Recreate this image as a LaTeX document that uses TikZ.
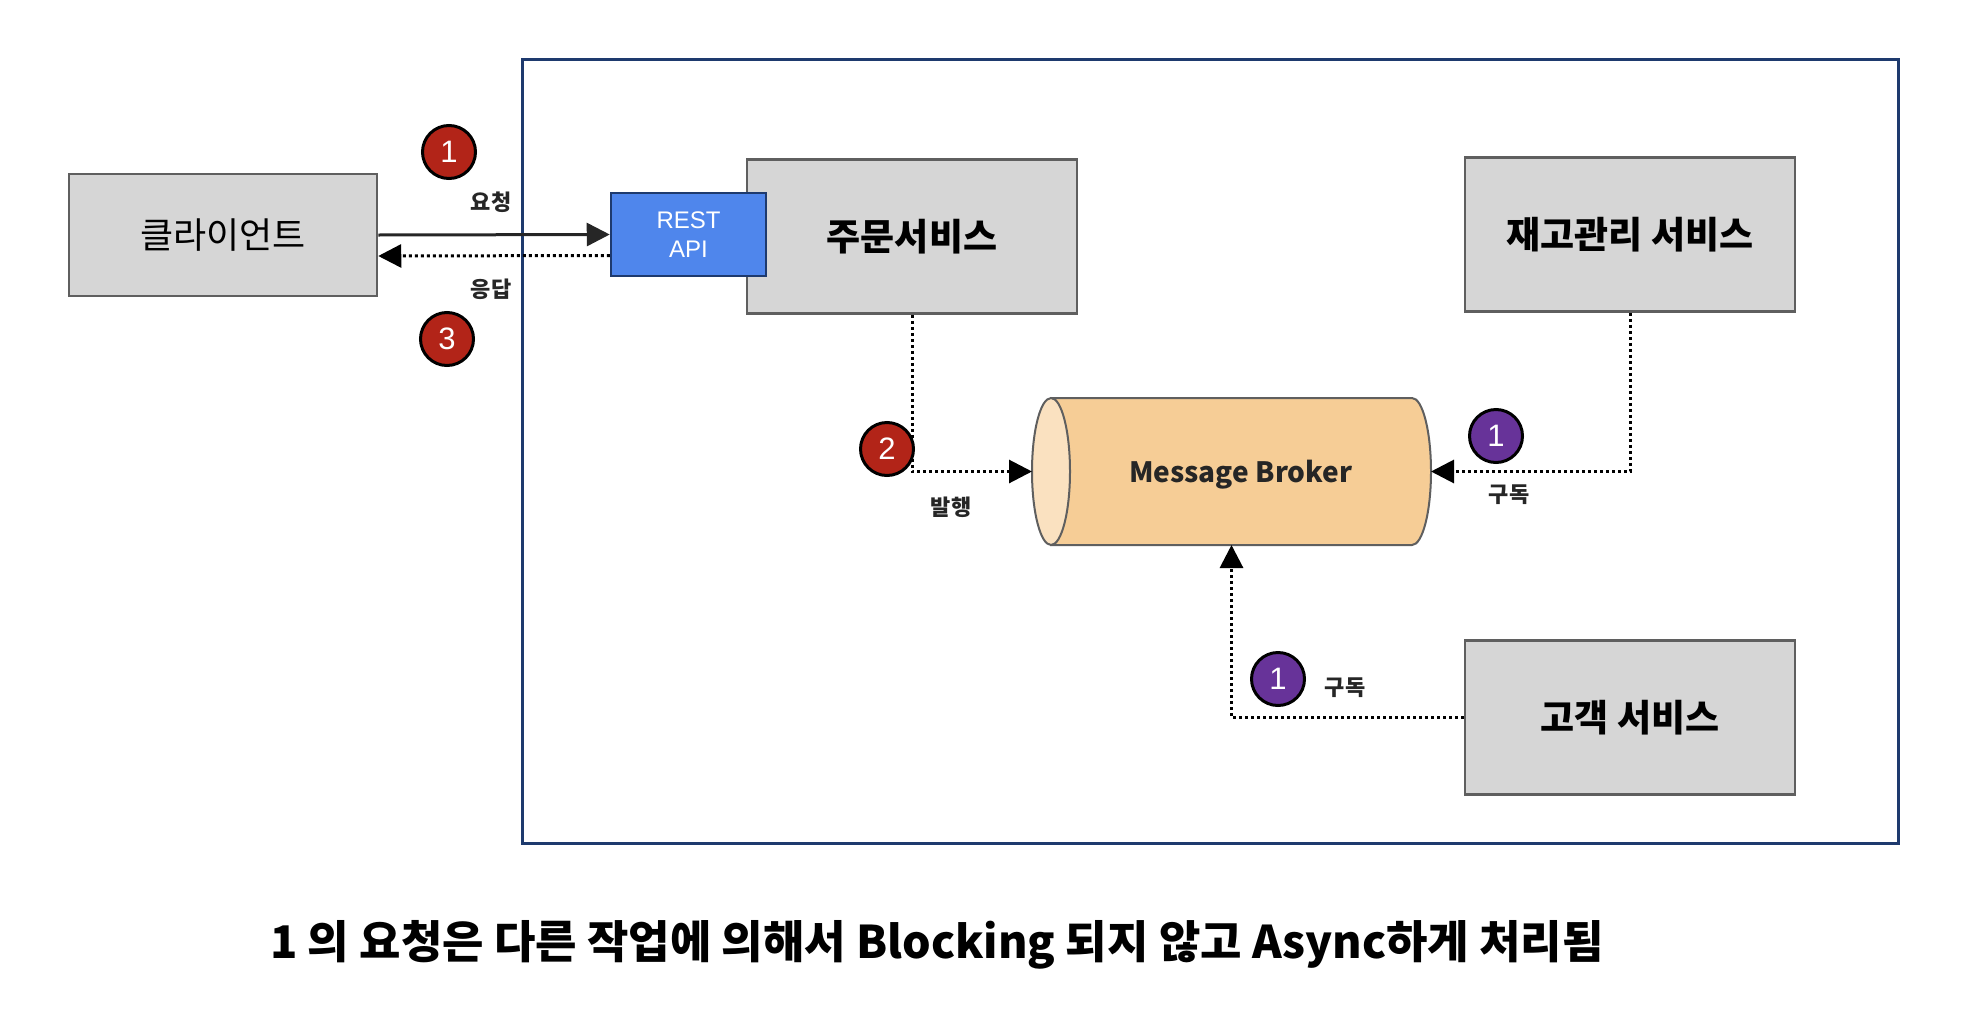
\documentclass[tikz,border=0pt]{standalone}
\usepackage{fontspec}
\setmainfont{Noto Sans CJK KR}
\newfontfamily\arialfont{Liberation Sans}
\IfFontExistsTF{Noto Sans CJK KR Black}
    {\newfontfamily\captionfont{Noto Sans CJK KR Black}}
    {\newfontfamily\captionfont{Noto Sans CJK KR}[FakeBold=1.5]}
\usepackage{xcolor}
\usepackage{tikz}
\usetikzlibrary{arrows.meta, calc}

\definecolor{boxgray}{HTML}{D6D6D6}
\definecolor{boxline}{HTML}{5F5F5F}
\definecolor{apiblue}{HTML}{4F86EC}
\definecolor{navy}{HTML}{1E3A6E}
\definecolor{brokerbody}{HTML}{F6CD96}
\definecolor{brokerend}{HTML}{FAE1C0}
\definecolor{badgered}{HTML}{B22418}
\definecolor{badgepurple}{HTML}{673399}
\definecolor{labelgray}{HTML}{262626}

\begin{document}
\begin{tikzpicture}[x=1pt, y=-1pt,
    >={Triangle[length=23pt, width=23pt]},
    service/.style={draw=boxline, fill=boxgray, line width=2.5pt, minimum width=330pt, minimum height=154pt, font=\fontsize{37}{44}\selectfont\bfseries},
    badge/.style={circle, draw=black, line width=3pt, minimum size=53pt, inner sep=0pt, text=white, font=\arialfont\fontsize{31}{31}\selectfont},
    reqline/.style={->, line width=3pt, draw=labelgray},
    dotline/.style={->, line width=3pt, dash pattern=on 3pt off 3pt},
    tag/.style={font=\fontsize{22}{26}\selectfont\bfseries, text=labelgray}]
    \useasboundingbox (0,0) rectangle (1968,1012);

    % 1. Khung hệ thống
    \draw[navy, line width=3pt] (522,59) rectangle (1898,843);

    % 2. Các hộp dịch vụ
    \node[service, font=\fontsize{36}{44}\selectfont, minimum width=308pt, minimum height=122pt] (client) at (223,235) {클라이언트};
    \node[service] (order) at (912,236.5) {주문서비스};
    \node[service] (stock) at (1630,234.5) {재고관리 서비스};
    \node[service] (customer) at (1630,717.5) {고객 서비스};
    \node[draw=navy, fill=apiblue, line width=2.5pt, minimum width=155pt, minimum height=83pt, text=white, align=center,
        font=\arialfont\fontsize{24}{29}\selectfont] (api) at (688.5,234.5) {REST\\API};

    % 3. Message Broker (hình trụ)
    \node[minimum width=399pt, minimum height=147pt, inner sep=0pt, outer sep=0pt] (broker) at (1231.5,471.5) {};
    \draw[boxline, line width=2pt, fill=brokerbody] ($(broker.north west)+(19,0)$) -- ($(broker.north east)+(-19,0)$)
        arc[start angle=90, end angle=-90, x radius=19pt, y radius=73.5pt] -- ($(broker.south west)+(19,0)$) -- cycle;
    \draw[boxline, line width=2pt, fill=brokerend] ($(broker.west)+(19,0)$) ellipse[x radius=19pt, y radius=73.5pt];
    \node[font=\fontsize{28}{34}\selectfont\bfseries, text=labelgray] (brokertext) at ($(broker)+(9,3)$) {Message Broker};

    % 4. Các mũi tên
    \draw[reqline] (client.east) -- (api.west);
    \draw[dotline] ([yshift=-21pt]api.west) -- ([yshift=-21pt]client.east);
    \draw[dotline] (order.south) |- (broker.west);
    \draw[dotline] (stock.south) |- (broker.east);
    \draw[dotline] (customer.west) -| (broker.south);

    % 5. Nhãn
    \node[tag] (reqtag) at (491,202) {요청};
    \node[tag] (resptag) at (491,289) {응답};
    \node[tag] (pubtag) at (951,507) {발행};
    \node[tag] (subtag) at (1509,495) {구독};
    \node[tag] (subtagb) at (1345,688) {구독};

    % 6. Số thứ tự
    \node[badge, fill=badgered] (reqbadge) at (449,152) {1};
    \node[badge, fill=badgered] (respbadge) at (447,339) {3};
    \node[badge, fill=badgered] (pubbadge) at (887,449) {2};
    \node[badge, fill=badgepurple] (subbadge) at (1496,436) {1};
    \node[badge, fill=badgepurple] (subbadgeb) at (1278,679) {1};

    % 7. Chú thích
    \node[font=\captionfont\fontsize{45}{52}\selectfont] (caption) at (937,945) {1 의 요청은 다른 작업에 의해서 Blocking 되지 않고 Async하게 처리됨};
\end{tikzpicture}
\end{document}
